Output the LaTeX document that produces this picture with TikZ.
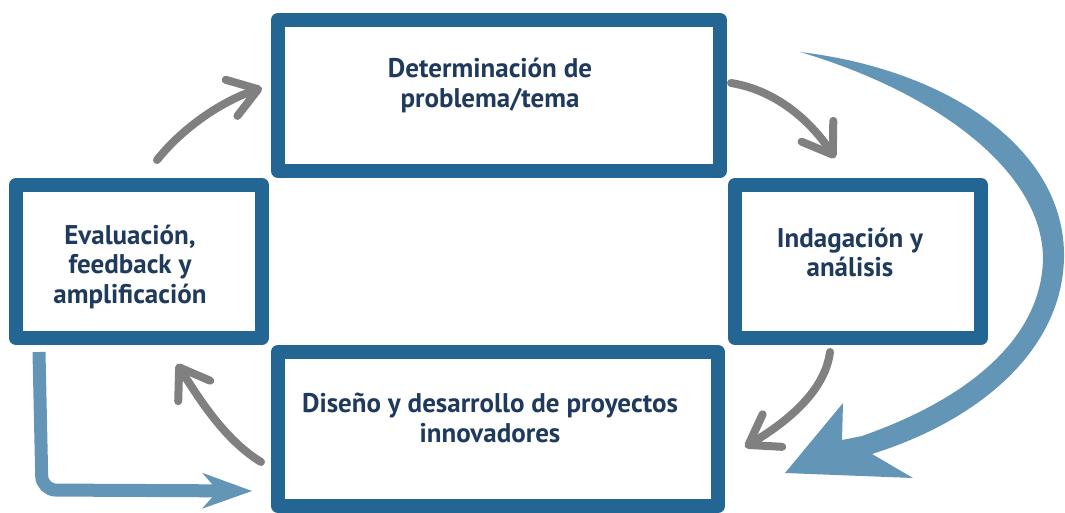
\documentclass[tikz,border=0pt]{standalone}
\usepackage{fontspec}
\setmainfont{PT Sans}
\usetikzlibrary{arrows.meta,positioning}

\definecolor{boxblue}{RGB}{35,102,148}
\definecolor{arrowblue}{RGB}{99,149,182}
\definecolor{textblue}{RGB}{31,58,92}
\definecolor{brushgray}{RGB}{128,128,128}

\begin{document}
\begin{tikzpicture}[x=1pt,y=-1pt,
	stage/.style={draw=boxblue,line width=14pt,line join=round,fill=white,inner sep=0pt},
	stagetext/.style={text=textblue,font=\bfseries\fontsize{27}{29.5}\selectfont,align=center},
	brush/.style={draw=brushgray,line width=8pt,line cap=round,-{Straight Barb[length=28pt,width=38pt,round]}},
	feedback/.style={draw=arrowblue,line width=13pt,rounded corners=14pt,-{Stealth[length=50pt,width=36pt,inset=16pt,line width=0pt]}}]
	
	\useasboundingbox (0,0) rectangle (1065,513);
	
	% Stages
	\node[stage,minimum width=442pt,minimum height=151pt] (problema) at (499,95.5) {};
	\node[stage,minimum width=246pt,minimum height=153pt] (evaluacion) at (139,261.5) {};
	\node[stage,minimum width=246pt,minimum height=153pt] (indagacion) at (858,261.5) {};
	\node[stage,minimum width=440pt,minimum height=154pt] (diseno) at (498,429) {};
	
	% Texts
	\node[stagetext] (problematxt) at ([shift={(-9,-10)}]problema.center) {Determinación de\\problema/tema};
	\node[stagetext] (evaluaciontxt) at ([shift={(-9,5)}]evaluacion.center) {Evaluación,\\feedback y\\amplificación};
	\node[stagetext] (indagaciontxt) at ([shift={(-8,-9)}]indagacion.center) {Indagación y\\análisis};
	\node[stagetext] (disenotxt) at ([shift={(-8,-11)}]diseno.center) {Diseño y desarrollo de proyectos\\innovadores};
	
	% Cycle (gray)
	\coordinate (g1a) at (157,160);
	\coordinate (g1b) at (262,88);
	\coordinate (g2a) at (731,83);
	\coordinate (g2b) at (835,158);
	\coordinate (g3a) at (830,352);
	\coordinate (g3b) at (745,447);
	\coordinate (g4a) at (261,462);
	\coordinate (g4b) at (177,364);
	\draw[brush] (g1a) .. controls (185,125) and (225,100) .. (g1b);
	\draw[brush] (g2a) .. controls (775,90) and (810,120) .. (g2b);
	\draw[brush] (g3a) .. controls (825,390) and (790,420) .. (g3b);
	\draw[brush] (g4a) .. controls (225,440) and (200,400) .. (g4b);
	
	% Feedback (blue)
	\coordinate (fbstart) at (39,352);
	\coordinate (fbend) at (252,491);
	\draw[feedback] (fbstart) -- (42,490) -- (fbend);
	
	\coordinate (loopstart) at (800,52);
	\coordinate (looptip) at (785,473);
	\fill[arrowblue] (loopstart) .. controls (950,70) and (1066,150) .. (1064,258)
		.. controls (1062,350) and (980,420) .. (872,454)
		-- (913,478) -- (looptip) -- (843,403) -- (842,440) -- (862,436)
		.. controls (965,400) and (1042,340) .. (1043,258)
		.. controls (1042,170) and (935,92) .. (loopstart) -- cycle;
	
\end{tikzpicture}
\end{document}
